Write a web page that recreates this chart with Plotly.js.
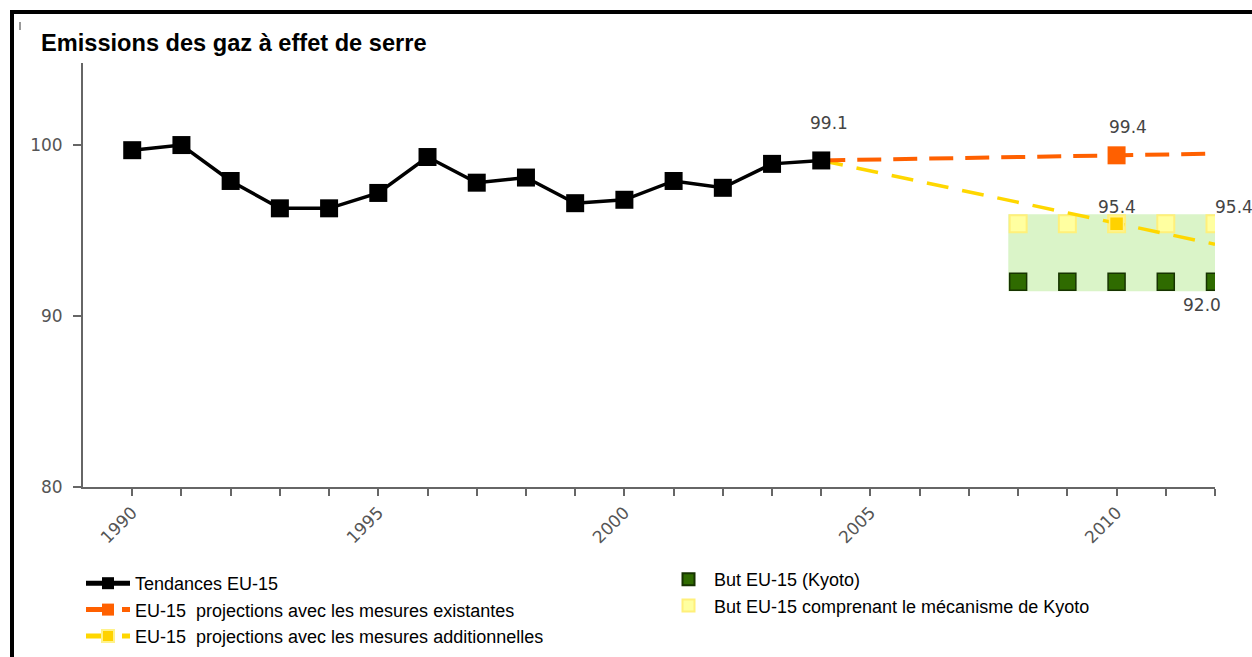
<!DOCTYPE html>
<html>
<head>
<meta charset="utf-8">
<script src="https://cdn.plot.ly/plotly-3.0.1.min.js"></script>
<style>
  html, body { margin: 0; padding: 0; background: #fff; }
  #wrap { position: relative; width: 1252px; height: 657px; overflow: hidden; }
  #chart { position: absolute; left: 0; top: 0; width: 1252px; height: 657px; }
  .frame { position: absolute; background: #000; pointer-events: none; }
  .mark { position: absolute; background: #999; pointer-events: none; }
</style>
</head>
<body>
<div id="wrap">
  <div id="chart"></div>
  <div class="frame" style="left:10px; top:10px; width:1242px; height:4px;"></div>
  <div class="frame" style="left:10px; top:10px; width:4px; height:647px;"></div>
  <div class="mark" style="left:19px; top:22px; width:2px; height:8px;"></div>
</div>
<script>
// ---- data ----
const trendYears = [1990, 1991, 1992, 1993, 1994, 1995, 1996, 1997, 1998, 1999, 2000, 2001, 2002, 2003, 2004];
const trendValues = [99.7, 100.0, 97.9, 96.3, 96.3, 97.2, 99.3, 97.8, 98.1, 96.6, 96.8, 97.9, 97.5, 98.9, 99.1];

const projYears = [2004, 2010, 2012];
const projExisting = [99.1, 99.4, 99.5];
const projAdditional = [99.1, 95.4, 94.2];

const targetYears = [2008, 2009, 2010, 2011, 2012];
const kyotoTarget = [92.0, 92.0, 92.0, 92.0, 92.0];
const kyotoMechTarget = [95.4, 95.4, 95.4, 95.4, 95.4];

const tickYears = [1990, 1991, 1992, 1993, 1994, 1995, 1996, 1997, 1998, 1999, 2000, 2001, 2002, 2003, 2004, 2005, 2006, 2007, 2008, 2009, 2010, 2011, 2012];
const tickLabels = ['1990', '', '', '', '', '1995', '', '', '', '', '2000', '', '', '', '', '2005', '', '', '', '', '2010', '', ''];

const names = {
  trend: 'Tendances EU-15',
  existing: 'EU-15  projections avec les mesures existantes',
  additional: 'EU-15  projections avec les mesures additionnelles',
  kyoto: 'But EU-15 (Kyoto)',
  kyotoMech: 'But EU-15 comprenant le mécanisme de Kyoto'
};

// ---- traces ----
const traces = [
  {
    x: targetYears, y: kyotoTarget, name: names.kyoto, legend: 'legend2',
    mode: 'markers', type: 'scatter',
    marker: { symbol: 'square', size: 17, color: '#2f6b00', opacity: 1, line: { color: '#163300', width: 1.5 } }
  },
  {
    x: targetYears, y: kyotoMechTarget, name: names.kyotoMech, legend: 'legend2',
    mode: 'markers', type: 'scatter',
    marker: { symbol: 'square', size: 17, color: '#ffffa0', opacity: 1, line: { color: '#fff07a', width: 2 } }
  },
  {
    x: projYears, y: projAdditional, name: names.additional, legend: 'legend',
    mode: 'lines+markers', type: 'scatter',
    line: { color: '#ffd700', width: 3.5, dash: '22px,14px' },
    marker: { symbol: 'square', size: projYears.map(y => y === 2010 ? 14 : 0), color: '#ffd200', opacity: 1, line: { color: '#fff28a', width: 1.5 } }
  },
  {
    x: projYears, y: projExisting, name: names.existing, legend: 'legend',
    mode: 'lines+markers', type: 'scatter',
    line: { color: '#ff6000', width: 4, dash: '24px,12px' },
    marker: { symbol: 'square', size: projYears.map(y => y === 2010 ? 18 : 0), color: '#ff6000', opacity: 1, line: { color: '#ff6000', width: 0 } }
  },
  {
    x: trendYears, y: trendValues, name: names.trend, legend: 'legend',
    mode: 'lines+markers', type: 'scatter',
    line: { color: '#000000', width: 3.5 },
    marker: { symbol: 'square', size: 18, color: '#000000', opacity: 1 }
  }
];

// ---- labels ----
const lastTrend = trendValues[trendValues.length - 1];
const labelFont = { family: 'DejaVu Sans, Verdana, sans-serif', size: 17, color: '#444' };
const annotations = [
  { x: trendYears[trendYears.length - 1], y: lastTrend, text: lastTrend.toFixed(1), xshift: 8, yshift: 37 },
  { x: projYears[1], y: projExisting[1], text: projExisting[1].toFixed(1), xshift: 11, yshift: 28 },
  { x: targetYears[2], y: kyotoMechTarget[2], text: kyotoMechTarget[2].toFixed(1), xshift: 0, yshift: 17 },
  { x: targetYears[4], y: kyotoMechTarget[4], text: kyotoMechTarget[4].toFixed(1), xshift: 19, yshift: 17 },
  { x: targetYears[4], y: kyotoTarget[4], text: kyotoTarget[4].toFixed(1), xshift: -13, yshift: -23 }
].map(a => Object.assign({ xref: 'x', yref: 'y', showarrow: false, font: labelFont }, a));

// ---- target zone rectangle ----
const padX = 0.2, padY = 0.55;
const shapes = [{
  type: 'rect', xref: 'x', yref: 'y', layer: 'below',
  x0: Math.min(...targetYears) - padX, x1: Math.max(...targetYears) + padX,
  y0: Math.min(...kyotoTarget) - padY, y1: Math.max(...kyotoMechTarget) + padY,
  fillcolor: '#daf4c8', line: { width: 0 }
}];

const legendFont = { family: 'Liberation Sans, Arial, sans-serif', size: 18, color: '#000' };

const layout = {
  width: 1252, height: 657,
  margin: { l: 83, r: 37, t: 63, b: 170, autoexpand: false },
  paper_bgcolor: '#ffffff', plot_bgcolor: '#ffffff',
  title: {
    text: 'Emissions des gaz à effet de serre',
    font: { family: 'Liberation Sans, Arial, sans-serif', size: 23.6, color: '#000', weight: 'bold' },
    xref: 'container', yref: 'container', x: 41 / 1252, xanchor: 'left', y: 1 - 43 / 657, yanchor: 'middle'
  },
  xaxis: {
    range: [1989, 2012], tickmode: 'array', tickvals: tickYears, ticktext: tickLabels,
    tickangle: -45, ticks: 'outside', ticklen: 7, tickwidth: 2, tickcolor: '#666',
    showline: true, linecolor: '#666', linewidth: 2, showgrid: false, zeroline: false, automargin: false,
    tickfont: { family: 'DejaVu Sans, Verdana, sans-serif', size: 17, color: '#555' },
    ticklabelstandoff: 0
  },
  yaxis: {
    range: [80, 104.8], tickmode: 'array', tickvals: [80, 90, 100],
    ticks: 'outside', ticklen: 8, tickwidth: 2, tickcolor: '#666',
    showline: true, linecolor: '#666', linewidth: 2, showgrid: false, zeroline: false, automargin: false,
    tickfont: { family: 'DejaVu Sans, Verdana, sans-serif', size: 17, color: '#555' },
    ticklabelstandoff: 7
  },
  legend: {
    xref: 'container', yref: 'container',
    x: 81 / 1252, y: 1 - 565 / 657, xanchor: 'left', yanchor: 'top', orientation: 'v',
    traceorder: 'reversed', font: legendFont, itemwidth: 44, bgcolor: 'rgba(0,0,0,0)', itemsizing: 'constant'
  },
  legend2: {
    xref: 'container', yref: 'container',
    x: 663 / 1252, y: 1 - 561 / 657, xanchor: 'left', yanchor: 'top', orientation: 'v',
    traceorder: 'normal', font: legendFont, itemwidth: 41, bgcolor: 'rgba(0,0,0,0)', itemsizing: 'constant'
  },
  annotations: annotations,
  shapes: shapes,
  showlegend: true
};

Plotly.newPlot('chart', traces, layout, { displayModeBar: false, staticPlot: true });
</script>
</body>
</html>
